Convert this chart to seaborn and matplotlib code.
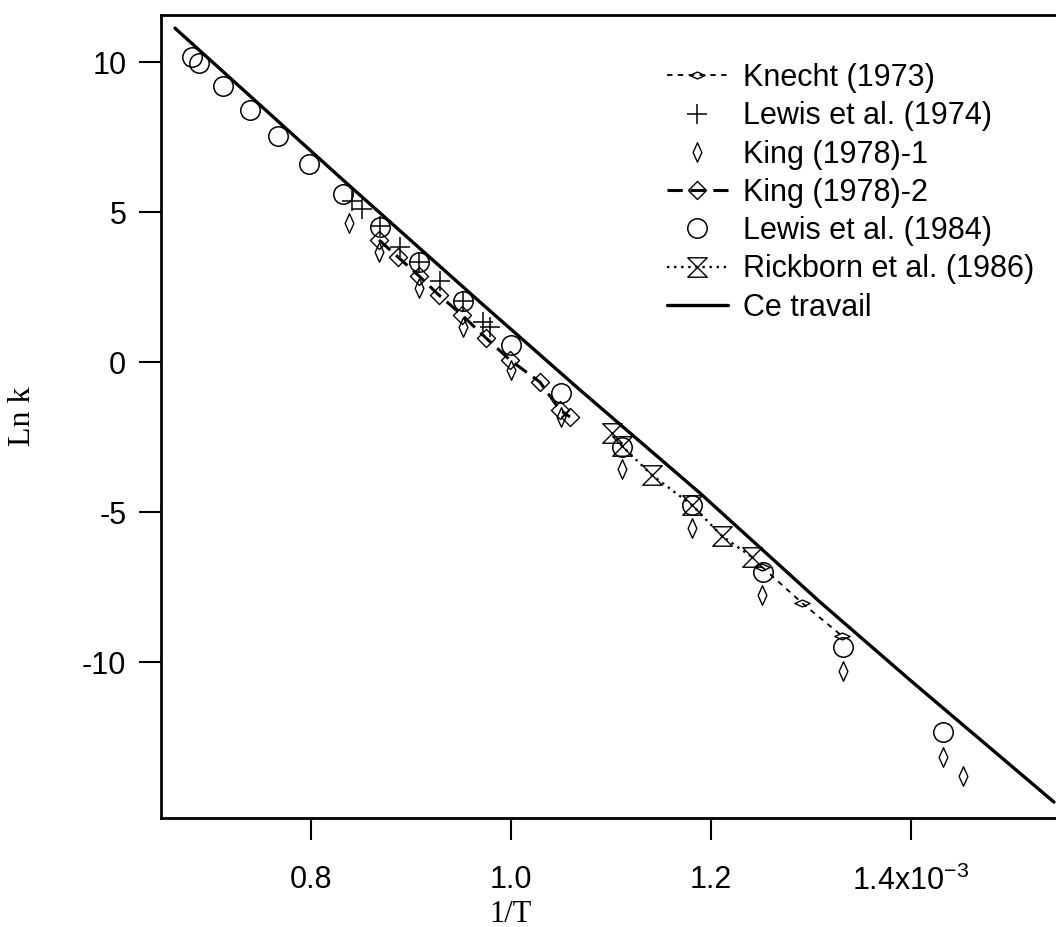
import matplotlib
matplotlib.use("Agg")
import matplotlib.pyplot as plt
from matplotlib.path import Path
import seaborn as sns

# ------------------------------------------------------------
# données (1/T en 10^-3 K^-1, Ln k)
# ------------------------------------------------------------
knecht_x = [1.251, 1.291, 1.331]
knecht_y = [-6.83, -8.03, -9.13]

lewis74_x = [0.841, 0.851, 0.869, 0.889, 0.908, 0.929, 0.952, 0.972, 0.979]
lewis74_y = [5.37, 5.10, 4.53, 3.83, 3.33, 2.70, 2.03, 1.33, 1.17]

king1_x = [0.838, 0.868, 0.908, 0.952, 1.000, 1.050, 1.111, 1.181, 1.251, 1.332, 1.432, 1.452]
king1_y = [4.63, 3.67, 2.47, 1.17, -0.27, -1.83, -3.57, -5.53, -7.77, -10.30, -13.17, -13.80]

king2_x = [0.868, 0.887, 0.908, 0.928, 0.951, 0.975, 0.999, 1.029, 1.049, 1.059]
king2_y = [4.07, 3.50, 2.87, 2.23, 1.57, 0.80, 0.07, -0.67, -1.60, -1.83]

lewis84_x = [0.681, 0.688, 0.712, 0.739, 0.767, 0.798, 0.832, 0.869, 0.908, 0.952,
             1.000, 1.050, 1.111, 1.181, 1.252, 1.332, 1.432]
lewis84_y = [10.17, 9.97, 9.20, 8.40, 7.53, 6.60, 5.60, 4.50, 3.33, 2.03,
             0.57, -1.03, -2.83, -4.77, -7.00, -9.50, -12.33]

rick_x = [1.101, 1.111, 1.141, 1.181, 1.211, 1.241]
rick_y = [-2.37, -2.80, -3.77, -4.77, -5.80, -6.50]

ce_x = [0.664, 0.832, 0.969, 1.069, 1.189, 1.309, 1.399, 1.543]
ce_y = [11.13, 6.07, 2.00, -0.93, -4.37, -8.00, -10.60, -14.67]

xticks = [0.8, 1.0, 1.2, 1.4]
xtick_labels = ["0.8", "1.0", "1.2", "1.4x10$^{-3}$"]
yticks = [10, 5, 0, -5, -10]
ytick_labels = ["10", "5", "0", "-5", "-10"]

# ------------------------------------------------------------
# marqueurs
# ------------------------------------------------------------
def closed(verts):
    codes = [Path.MOVETO] + [Path.LINETO] * (len(verts) - 2) + [Path.CLOSEPOLY]
    return Path(verts, codes)

m_flat = closed([(-1, 0), (0, 0.45), (1, 0), (0, -0.45), (-1, 0)])
m_thin = closed([(0, 1), (0.45, 0), (0, -1), (-0.45, 0), (0, 1)])
m_diam = closed([(0, 1), (1, 0), (0, -1), (-1, 0), (0, 1)])
m_hour = closed([(-1, 1), (1, 1), (-1, -1), (1, -1), (-1, 1)])

sns.set_theme(style="ticks")
plt.rcParams["font.family"] = ["Liberation Sans", "DejaVu Sans"]
plt.rcParams["mathtext.default"] = "regular"
for key in ["text.color", "axes.labelcolor", "xtick.color", "ytick.color",
            "xtick.labelcolor", "ytick.labelcolor"]:
    plt.rcParams[key] = "black"

fig = plt.figure(figsize=(10.56, 9.27), dpi=100)
ax = fig.add_axes([161 / 1056, 1 - 818 / 927, 897 / 1056, 803 / 927])

base = dict(ax=ax, color="black", estimator=None, sort=False,
            markerfacecolor="none", markeredgecolor="black")

sns.lineplot(x=knecht_x, y=knecht_y, lw=1.3, linestyle=(0, (3, 3)),
             marker=m_flat, markersize=11, markeredgewidth=1.0,
             label="Knecht (1973)", **base)
sns.lineplot(x=lewis74_x, y=lewis74_y, linestyle="none",
             marker="+", markersize=15, markeredgewidth=1.1,
             label="Lewis et al. (1974)", **base)
sns.lineplot(x=king1_x, y=king1_y, linestyle="none",
             marker=m_thin, markersize=14, markeredgewidth=1.0,
             label="King (1978)-1", **base)
sns.lineplot(x=king2_x, y=king2_y, lw=2.2, linestyle=(0, (5, 2.5)),
             marker=m_diam, markersize=13, markeredgewidth=1.0,
             label="King (1978)-2", **base)
sns.lineplot(x=lewis84_x, y=lewis84_y, linestyle="none",
             marker="o", markersize=14, markeredgewidth=1.1,
             label="Lewis et al. (1984)", **base)
sns.lineplot(x=rick_x, y=rick_y, lw=1.7, linestyle=(0, (1, 2)),
             marker=m_hour, markersize=14, markeredgewidth=1.0,
             label="Rickborn et al. (1986)", **base)
sns.lineplot(x=ce_x, y=ce_y, ax=ax, color="black", lw=2.4,
             estimator=None, sort=False, label="Ce travail")

ax.set_xlim(0.65, 1.547)
ax.set_ylim(-15.2, 11.57)
ax.set_xticks(xticks)
ax.set_xticklabels(xtick_labels)
ax.set_yticks(yticks)
ax.set_yticklabels(ytick_labels)
ax.tick_params(direction="out", length=16, width=1.5, labelsize=22, color="black")
ax.tick_params(axis="x", pad=18)
ax.tick_params(axis="y", pad=9)

for side in ["left", "bottom", "top"]:
    ax.spines[side].set_linewidth(2)
    ax.spines[side].set_color("black")
ax.spines["right"].set_visible(False)

ax.set_xlabel("1/T", fontfamily=["Liberation Serif"], fontsize=22, va="center")
ax.set_ylabel("Ln k", fontfamily=["Liberation Serif"], fontsize=23)
ax.xaxis.set_label_coords(0.39, -0.12)
ax.yaxis.set_label_coords(-0.138, 0.5)

ax.legend(frameon=False, loc="upper left", bbox_to_anchor=(0.564, 0.94),
          borderpad=0, borderaxespad=0, handlelength=2.0, handletextpad=0.5,
          labelspacing=0.27, fontsize=22, numpoints=1)

fig.savefig("out.png", dpi=100)
